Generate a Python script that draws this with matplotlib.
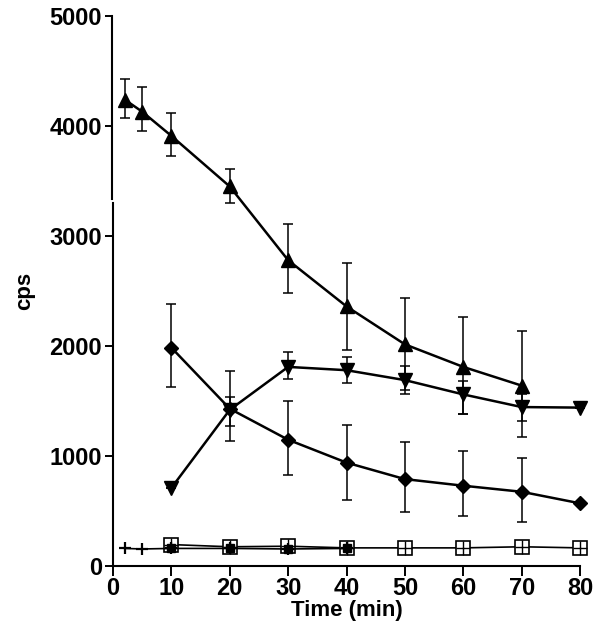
import matplotlib
matplotlib.use("Agg")
import matplotlib.pyplot as plt
import matplotlib.transforms as mtransforms

plt.rcParams['font.family'] = ['Liberation Sans', 'DejaVu Sans']

# Up triangles
up_x = [2, 5, 10, 20, 30, 40, 50, 60, 70]
up_y = [4240, 4130, 3910, 3450, 2780, 2360, 2015, 1810, 1640]
up_hi = [4430, 4350, 4120, 3610, 3110, 2750, 2440, 2265, 2135]
up_lo = [4075, 3950, 3730, 3300, 2480, 1960, 1600, 1380, 1170]

# Down triangles
dn_x = [10, 20, 30, 40, 50, 60, 70, 80]
dn_y = [710, 1420, 1810, 1780, 1690, 1560, 1445, 1440]
dn_hi = [None, 1535, 1945, 1900, 1815, 1680, 1560, None]
dn_lo = [None, 1275, 1700, 1660, 1560, 1385, 1320, None]

# Diamonds
dm_x = [10, 20, 30, 40, 50, 60, 70, 80]
dm_y = [1985, 1430, 1148, 940, 790, 730, 675, 570]
dm_hi = [2380, 1775, 1500, 1280, 1125, 1045, 980, None]
dm_lo = [1625, 1140, 825, 600, 490, 455, 400, None]

# Crossed squares
sq_x = [10, 20, 30, 40, 50, 60, 70, 80]
sq_y = [195, 175, 180, 165, 165, 165, 175, 165]

# Plus markers / filled small
pl_x = [2, 5, 10, 20, 30, 40]
pl_y = [160, 155, 160, 160, 155, 160]

def errs(y, hi, lo):
    lower = [0 if h is None else v - l for v, h, l in zip(y, hi, lo)]
    upper = [0 if h is None else h - v for v, h, l in zip(y, hi, lo)]
    return [lower, upper]

fig = plt.figure(figsize=(6.02, 6.39), dpi=100)
ax = fig.add_axes([0.1877, 0.1142, 0.9635 - 0.1877, 0.975 - 0.1142])

kw = dict(color='black', lw=1.8, elinewidth=1.1, capsize=3.5, capthick=1.1, clip_on=False)
ax.errorbar(up_x, up_y, yerr=errs(up_y, up_hi, up_lo), marker='^', ms=10, **kw)
ax.errorbar(dn_x, dn_y, yerr=errs(dn_y, dn_hi, dn_lo), marker='v', ms=10, **kw)
ax.errorbar(dm_x, dm_y, yerr=errs(dm_y, dm_hi, dm_lo), marker='D', ms=7, **kw)
ax.plot(sq_x, sq_y, color='black', lw=1.2, marker='s', ms=10, mfc='white', mec='black', mew=1.2, clip_on=False)
ax.plot(sq_x, sq_y, ls='none', marker='+', ms=10, mec='black', mew=1.0, clip_on=False)
ax.plot(pl_x, pl_y, color='black', lw=1.2, marker='+', ms=9, mew=1.6, clip_on=False)
ax.plot(pl_x[2:], pl_y[2:], ls='none', marker='s', ms=6, color='black', clip_on=False)

ax.set_xlim(0, 80)
ax.set_ylim(0, 5000)
ax.set_xticks(range(0, 81, 10))
ax.set_yticks(range(0, 5001, 1000))

for s in ['top', 'right', 'left']:
    ax.spines[s].set_visible(False)
ax.spines['bottom'].set_linewidth(1.5)
trans = mtransforms.blended_transform_factory(ax.transAxes, ax.transData)
ax.plot([0, 0], [0, 3300], transform=trans, color='black', lw=1.5, clip_on=False)
ax.plot([-0.002, -0.002], [3340, 5000], transform=trans, color='black', lw=1.5, clip_on=False)

ax.tick_params(axis='y', direction='out', length=6, width=1.4, labelsize=17, pad=2)
ax.tick_params(axis='x', direction='out', length=7, width=1.4, labelsize=17, pad=1)
for lab in ax.get_xticklabels() + ax.get_yticklabels():
    lab.set_fontweight('bold')

ax.set_xlabel('Time (min)', fontsize=16, fontweight='bold', labelpad=0)
ax.set_ylabel('cps', fontsize=16, fontweight='bold', labelpad=10)

fig.savefig('out.png', dpi=100)
